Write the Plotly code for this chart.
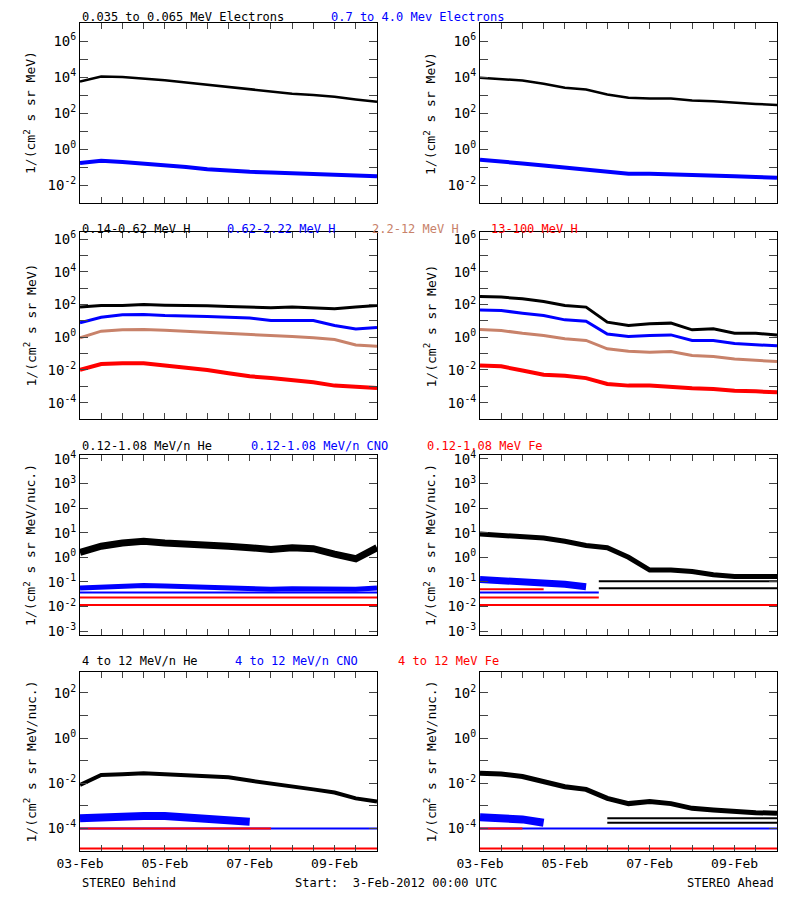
import numpy as np
import plotly.graph_objects as go

# time in days since 3-Feb-2012 00:00 UTC
t_days = [0, 0.5, 1, 1.5, 2, 2.5, 3, 3.5, 4, 4.5, 5, 5.5, 6, 6.5, 7]

# log10 of flux values
# Row 1 electrons
beh_e_low = [3.75, 4.03, 4.0, 3.93, 3.82, 3.7, 3.57, 3.45, 3.3, 3.2, 3.07, 3.0, 2.9, 2.75, 2.62]
beh_e_high = [-0.78, -0.65, -0.72, -0.8, -0.9, -1.0, -1.12, -1.2, -1.27, -1.3, -1.35, -1.4, -1.47, -1.5, -1.52]
ahd_e_low = [3.96, 3.9, 3.8, 3.63, 3.4, 3.3, 3.03, 2.85, 2.8, 2.8, 2.7, 2.65, 2.56, 2.5, 2.45]
ahd_e_high = [-0.6, -0.68, -0.8, -0.92, -1.02, -1.15, -1.26, -1.37, -1.37, -1.42, -1.46, -1.48, -1.52, -1.55, -1.6]
# Row 2 protons
beh_h1 = [1.84, 1.94, 1.94, 2.0, 1.96, 1.96, 1.92, 1.88, 1.84, 1.8, 1.84, 1.8, 1.74, 1.84, 1.94]
beh_h2 = [0.88, 1.22, 1.37, 1.39, 1.33, 1.31, 1.27, 1.22, 1.18, 1.02, 1.02, 1.02, 0.71, 0.5, 0.6]
beh_h3 = [-0.04, 0.37, 0.45, 0.47, 0.43, 0.37, 0.3, 0.24, 0.18, 0.1, 0.04, -0.04, -0.14, -0.47, -0.55]
beh_h4 = [-2.0, -1.64, -1.59, -1.59, -1.73, -1.84, -2.0, -2.2, -2.39, -2.5, -2.6, -2.76, -2.96, -3.06, -3.1]
ahd_h1 = [2.49, 2.45, 2.35, 2.18, 1.94, 1.84, 0.92, 0.71, 0.82, 0.86, 0.45, 0.51, 0.24, 0.24, 0.14]
ahd_h2 = [1.67, 1.63, 1.47, 1.33, 1.06, 0.98, 0.2, 0.04, 0.1, 0.14, -0.2, -0.2, -0.39, -0.45, -0.53]
ahd_h3 = [0.47, 0.41, 0.24, 0.1, -0.1, -0.2, -0.71, -0.86, -0.92, -0.88, -1.12, -1.18, -1.33, -1.43, -1.49]
ahd_h4 = [-1.73, -1.78, -2.04, -2.29, -2.35, -2.5, -2.86, -2.96, -2.96, -3.06, -3.12, -3.16, -3.27, -3.31, -3.37]
# Row 3 low-energy heavy ions
beh_he_lo = [0.2, 0.45, 0.58, 0.65, 0.58, 0.56, 0.52, 0.45, 0.39, 0.32, 0.39, 0.35, 0.13, -0.06, 0.39]
beh_cno_lo = [-1.25, -1.2, -1.15, -1.15, -1.17, -1.2, -1.22, -1.25, -1.27, -1.3, -1.28, -1.3, -1.3, -1.3, -1.25]
ahd_he_lo = [0.95, 0.9, 0.84, 0.78, 0.65, 0.48, 0.39, 0.0, -0.52, -0.52, -0.58, -0.71, -0.78, -0.78, -0.78]
ahd_cno_lo_t = [0, 0.5, 1, 1.5, 2, 2.5]
ahd_cno_lo = [-0.9, -0.95, -0.95, -1.0, -1.1, -1.2]
# Row 4 high-energy heavy ions
beh_he_hi = [-2.07, -1.63, -1.6, -1.56, -1.6, -1.63, -1.67, -1.73, -1.88, -2.0, -2.15, -2.27, -2.41, -2.67, -2.81]
beh_cno_hi_t = [0, 0.5, 1, 1.5, 2, 2.5, 3, 3.5, 4]
beh_cno_hi = [-3.55, -3.5, -3.45, -3.45, -3.45, -3.5, -3.55, -3.6, -3.7]
ahd_he_hi = [-1.56, -1.59, -1.7, -1.93, -2.15, -2.27, -2.67, -2.9, -2.81, -2.9, -3.11, -3.18, -3.26, -3.3, -3.33]
ahd_cno_hi_t = [0, 0.5, 1, 1.5]
ahd_cno_hi = [-3.5, -3.55, -3.6, -3.75]

# background count levels: (panel, t_start, t_end, log10 value, colour)
levels = [
    ("B3", 0, 7, -1.43, "blue"), ("B3", 0, 7, -1.63, "red"), ("B3", 0, 7, -1.94, "red"),
    ("A3", 0, 2.8, -1.43, "blue"), ("A3", 0, 1.5, -1.3, "red"), ("A3", 0, 2.8, -1.63, "red"),
    ("A3", 0, 7, -1.94, "red"), ("A3", 2.8, 7, -1.26, "black"), ("A3", 2.8, 7, -0.97, "black"),
    ("B4", 0, 7, -4.0, "blue"), ("B4", 0, 4.5, -4.0, "red"), ("B4", 0, 7, -4.89, "red"),
    ("A4", 0, 7, -4.0, "blue"), ("A4", 0, 1.0, -4.0, "red"), ("A4", 0, 7, -4.89, "red"),
    ("A4", 3.0, 7, -3.55, "black"), ("A4", 3.0, 7, -3.75, "black"),
]

BROWN = "#C8826A"
FONT = "DejaVu Sans Mono"
OFF = 8  # page body margin of the browser
W, H = 800 - 2 * OFF, 900 - 2 * OFF
xcols = {"B": (80, 377), "A": (480, 777)}
rows = {1: (23, 203), 2: (232, 419), 3: (455, 635), 4: (672, 851)}
yranges = {1: [-3, 7], 2: [-5, 6.43], 3: [-3.16, 4.16], 4: [-5, 2.93]}
ylabeled = {1: [-2, 0, 2, 4, 6], 2: [-4, -2, 0, 2, 4, 6], 3: [-3, -2, -1, 0, 1, 2, 3, 4], 4: [-4, -2, 0, 2]}
ytitles = {1: "1/(cm<sup>2</sup> s sr MeV)", 2: "1/(cm<sup>2</sup> s sr MeV)",
           3: "1/(cm<sup>2</sup> s sr MeV/nuc.)", 4: "1/(cm<sup>2</sup> s sr MeV/nuc.)"}

def px(x):
    return (x - OFF) / W

def py(y):
    return 1 - (y - OFF) / H

fig = go.Figure()
layout = dict(width=W, height=H, autosize=False, margin=dict(l=0, r=0, t=0, b=0, pad=0),
              paper_bgcolor="white", plot_bgcolor="white", showlegend=False,
              font=dict(family=FONT, size=12, color="black"))
annotations = []
axid = {}
n = 0
for r in (1, 2, 3, 4):
    for side in ("B", "A"):
        n += 1
        axid[f"{side}{r}"] = n
        x0, x1 = xcols[side]
        y0, y1 = rows[r]
        sfx = "" if n == 1 else str(n)
        tvx = [i * 0.5 for i in range(15)]
        txx = [(["03-Feb", "05-Feb", "07-Feb", "09-Feb"][int(v // 2)] if (v % 2 == 0 and r == 4 and v < 7) else "") for v in tvx]
        layout["xaxis" + sfx] = dict(domain=[px(x0), px(x1)], anchor="y" + sfx, range=[0, 7],
                                    tickvals=tvx, ticktext=txx, ticks="inside", ticklen=6,
                                    mirror="allticks", showline=True, linecolor="black", linewidth=1,
                                    showgrid=False, zeroline=False, tickfont=dict(size=13),
                                    automargin=False)
        lo, hi = yranges[r]
        tv = list(range(int(np.ceil(lo)), int(np.floor(hi)) + 1))
        tt = [(f"10<sup>{v}</sup>" if v in ylabeled[r] else "") for v in tv]
        layout["yaxis" + sfx] = dict(domain=[py(y1), py(y0)], anchor="x" + sfx, type="log",
                                    range=[lo, hi], tickvals=[10.0 ** v for v in tv], ticktext=tt,
                                    ticks="inside", ticklen=8, mirror="allticks", showline=True,
                                    linecolor="black", linewidth=1, showgrid=False, zeroline=False,
                                    tickfont=dict(size=14), automargin=False)
        annotations.append(dict(text=ytitles[r], xref="paper", yref="paper", x=px(x0 - 50),
                                y=py((y0 + y1) / 2), textangle=-90, showarrow=False,
                                font=dict(size=13), xanchor="center", yanchor="middle"))

def add(panel, t, logv, color, width=2.5):
    k = axid[panel]
    sfx = "" if k == 1 else str(k)
    fig.add_trace(go.Scatter(x=t, y=[10.0 ** v for v in logv], mode="lines",
                             line=dict(color=color, width=width), xaxis="x" + sfx, yaxis="y" + sfx))

for p, t0, t1, v, c in levels:
    add(p, [t0, t1], [v, v], c, 2)

add("B1", t_days, beh_e_low, "black", 2.5)
add("B1", t_days, beh_e_high, "blue", 4)
add("A1", t_days, ahd_e_low, "black", 2.5)
add("A1", t_days, ahd_e_high, "blue", 4)
for p, s in (("B2", (beh_h1, beh_h2, beh_h3, beh_h4)), ("A2", (ahd_h1, ahd_h2, ahd_h3, ahd_h4))):
    for arr, c, w in zip(s, ("black", "blue", BROWN, "red"), (3, 3, 3, 4)):
        add(p, t_days, arr, c, w)
add("B3", t_days, beh_cno_lo, "blue", 5)
add("B3", t_days, beh_he_lo, "black", 7)
add("A3", ahd_cno_lo_t, ahd_cno_lo, "blue", 7)
add("A3", t_days, ahd_he_lo, "black", 5)
add("B4", beh_cno_hi_t, beh_cno_hi, "blue", 8)
add("B4", t_days, beh_he_hi, "black", 4)
add("A4", ahd_cno_hi_t, ahd_cno_hi, "blue", 8)
add("A4", t_days, ahd_he_hi, "black", 5)

def label(text, x, y, color="black", anchor="left"):
    annotations.append(dict(text=text, xref="paper", yref="paper", x=px(x), y=py(y),
                            showarrow=False, xanchor=anchor, yanchor="middle",
                            font=dict(size=12, color=color)))

label("0.035 to 0.065 MeV Electrons", 80, 17)
label("0.7 to 4.0 Mev Electrons", 329, 17, "blue")
label("0.14-0.62 MeV H", 80, 229)
label("0.62-2.22 MeV H", 225, 229, "blue")
label("2.2-12 MeV H", 370, 229, BROWN)
label("13-100 MeV H", 489, 229, "red")
label("0.12-1.08 MeV/n He", 80, 446)
label("0.12-1.08 MeV/n CNO", 249, 446, "blue")
label("0.12-1.08 MeV Fe", 425, 446, "red")
label("4 to 12 MeV/n He", 80, 661)
label("4 to 12 MeV/n CNO", 233, 661, "blue")
label("4 to 12 MeV Fe", 396, 661, "red")
label("STEREO Behind", 80, 883)
label("Start:  3-Feb-2012 00:00 UTC", 293, 883)
label("STEREO Ahead", 776, 883, anchor="right")

layout["annotations"] = annotations
fig.update_layout(**layout)
fig.write_html("out.html")
